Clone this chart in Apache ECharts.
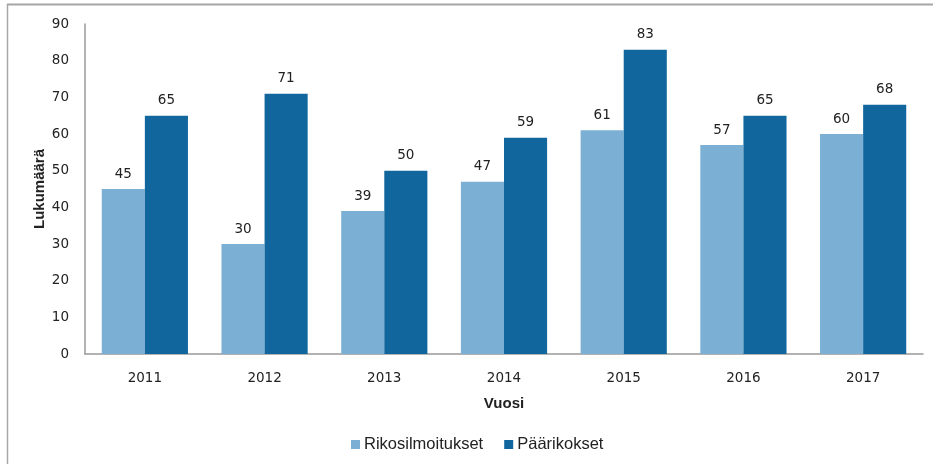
<!DOCTYPE html>
<html><head><meta charset="utf-8">
<script src="https://cdn.jsdelivr.net/npm/echarts@6/dist/echarts.min.js"></script>
<style>html,body{margin:0;padding:0;background:#fff}#c{width:933px;height:464px}</style>
</head><body><div id="c"></div>
<script>
const categories = ['2011','2012','2013','2014','2015','2016','2017'];
const rikosilmoitukset = [45,30,39,47,61,57,60];
const paarikokset = [65,71,50,59,83,65,68];
const yTicks = [0,10,20,30,40,50,60,70,80,90];

const chart = echarts.init(document.getElementById('c'));
const lbl = {show:true,position:'top',distance:8,color:'#222',fontFamily:'DejaVu Sans',fontSize:13.5};
chart.setOption({
  animation:false,
  graphic:[
    {type:'line',shape:{x1:7,y1:4.5,x2:933,y2:4.5},style:{stroke:'#a6a6a6',lineWidth:2}},
    {type:'line',shape:{x1:7.5,y1:4,x2:7.5,y2:464},style:{stroke:'#a6a6a6',lineWidth:1.5}}
  ],
  grid:{left:85,right:10,top:24,bottom:110},
  legend:{bottom:11,left:351,padding:0,itemWidth:9,itemHeight:9,itemGap:21,icon:'rect',
    textStyle:{fontFamily:'Liberation Sans',fontSize:16.5,color:'#222',padding:[0,0,0,-1]},
    data:['Rikosilmoitukset','Päärikokset']},
  xAxis:{type:'category',data:categories,name:'Vuosi',nameLocation:'middle',nameGap:42,nameMoveOverlap:false,
    nameTextStyle:{fontFamily:'Liberation Sans',fontWeight:'bold',fontSize:15,color:'#222'},
    axisLine:{lineStyle:{color:'#999',width:1.5}},axisTick:{show:false},
    axisLabel:{fontFamily:'DejaVu Sans',fontSize:13.5,color:'#222',margin:17}},
  yAxis:{type:'value',min:0,max:90,interval:10,name:'Lukumäärä',nameLocation:'middle',nameGap:38,nameMoveOverlap:false,
    nameTextStyle:{fontFamily:'Liberation Sans',fontWeight:'bold',fontSize:15,color:'#222'},
    axisLine:{show:true,lineStyle:{color:'#999',width:1.5}},axisTick:{show:false},splitLine:{show:false},
    axisLabel:{fontFamily:'DejaVu Sans',fontSize:13.5,color:'#222',margin:16,
      formatter:v=>yTicks.includes(v)?String(v):''}},
  series:[
    {name:'Rikosilmoitukset',type:'bar',data:rikosilmoitukset,barGap:'0%',barCategoryGap:'28%',
      itemStyle:{color:'#7BAFD4'},label:lbl},
    {name:'Päärikokset',type:'bar',data:paarikokset,itemStyle:{color:'#11679D'},label:lbl}
  ]
});
</script></body></html>
